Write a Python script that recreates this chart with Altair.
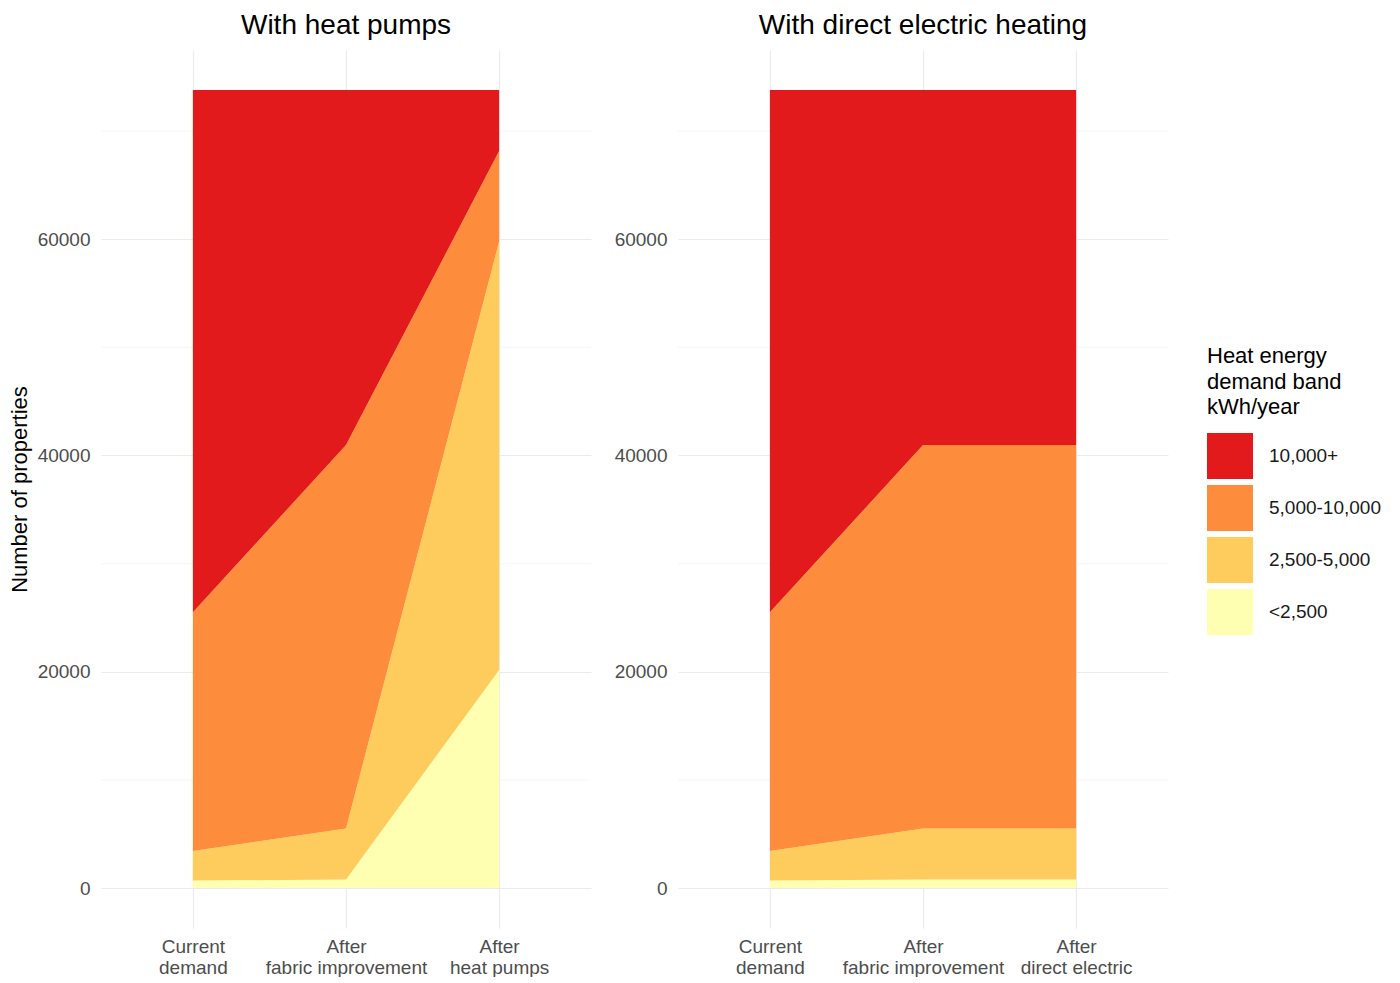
import altair as alt
import pandas as pd

FONT = "Liberation Sans"

# ---- data ----
bands = ["<2,500", "2,500-5,000", "5,000-10,000", "10,000+"]  # bottom -> top
legend_order = ["10,000+", "5,000-10,000", "2,500-5,000", "<2,500"]
band_colors = ["#E31A1C", "#FD8D3C", "#FECC5C", "#FFFFB2"]  # same order as legend_order

stages_hp = ["Current|demand", "After|fabric improvement", "After|heat pumps"]
stages_de = ["Current|demand", "After|fabric improvement", "After|direct electric"]

# counts of properties per band at each stage (bands bottom -> top)
hp_current = [700, 2720, 22080, 48300]
hp_fabric = [790, 4720, 35450, 32840]
hp_after = [20170, 39610, 8370, 5650]

de_current = [700, 2720, 22080, 48300]
de_fabric = [790, 4720, 35450, 32840]
de_after = [790, 4720, 35450, 32840]

y_major = [0, 20000, 40000, 60000]
y_minor = [10000, 30000, 50000, 70000]
y_domain = [-3690, 77490]


def make_df(stages, series):
    rows = []
    for si, (stage, vals) in enumerate(zip(stages, series)):
        for bi, (band, v) in enumerate(zip(bands, vals)):
            rows.append({"stage": stage, "band": band, "rank": bi, "count": v})
    return pd.DataFrame(rows)


df_hp = make_df(stages_hp, [hp_current, hp_fabric, hp_after])
df_de = make_df(stages_de, [de_current, de_fabric, de_after])
df_minor = pd.DataFrame({"v": y_minor})


def panel(df, stages, title, ytitle):
    x = alt.X(
        "stage:O",
        sort=stages,
        scale=alt.Scale(type="point", padding=0.6),
        axis=alt.Axis(
            title=None,
            labelAngle=0,
            labelExpr="split(datum.label, '|')",
            labelFont=FONT,
            labelFontSize=19,
            labelColor="#4D4D4D",
            labelLineHeight=21,
            labelPadding=9,
            ticks=False,
            domain=False,
            grid=True,
            gridColor="#EBEBEB",
            gridWidth=1.2,
        ),
    )
    yax = dict(
        values=y_major,
        format="d",
        labelFont=FONT,
        labelFontSize=19,
        labelColor="#4D4D4D",
        labelPadding=11,
        ticks=False,
        domain=False,
        grid=True,
        gridColor="#EBEBEB",
        gridWidth=1.2,
        titleFont=FONT,
        titleFontSize=22,
        titleFontWeight="normal",
        titleColor="#000000",
        titlePadding=6,
    )
    if ytitle:
        yaxis = alt.Axis(title=ytitle, **yax)
    else:
        yaxis = alt.Axis(title=None, **yax)

    yscale = alt.Scale(domain=y_domain, nice=False, zero=False)

    minor = alt.Chart(df_minor).mark_rule(color="#F4F4F4", strokeWidth=0.8).encode(
        y=alt.Y("v:Q", scale=yscale, axis=yaxis)
    )

    area = alt.Chart(df).mark_area(opacity=1, interpolate="linear").encode(
        x=x,
        y=alt.Y("count:Q", stack="zero", scale=yscale, axis=yaxis),
        color=alt.Color(
            "band:N",
            scale=alt.Scale(domain=legend_order, range=band_colors),
            legend=alt.Legend(
                title=["Heat energy", "demand band", "kWh/year"],
                orient="none",
                legendX=1106,
                legendY=296,
                symbolType="square",
                symbolSize=2116,
                symbolStrokeWidth=0,
                symbolOpacity=1,
                rowPadding=6,
                labelOffset=16,
                labelFont=FONT,
                labelFontSize=19,
                labelColor="#1A1A1A",
                titleFont=FONT,
                titleFontSize=22,
                titleFontWeight="normal",
                titleColor="#000000",
                titleLineHeight=25.5,
                titlePadding=14,
            ),
        ),
        order=alt.Order("rank:Q", sort="ascending"),
    )
    return alt.layer(minor, area).properties(
        width=490,
        height=878,
        title=alt.TitleParams(
            text=title, font=FONT, fontSize=28, fontWeight="normal", color="#000000",
            anchor="middle", offset=10,
        ),
    )


left = panel(df_hp, stages_hp, "With heat pumps", "Number of properties")
right = panel(df_de, stages_de, "With direct electric heating", None)

chart = (
    alt.hconcat(left, right, spacing=22)
    .properties(padding={"left": 0, "top": 4, "right": 0, "bottom": 0})
    .configure_view(strokeWidth=0)
)

chart.save("out.html", embed_options={"renderer": "svg", "actions": False})
